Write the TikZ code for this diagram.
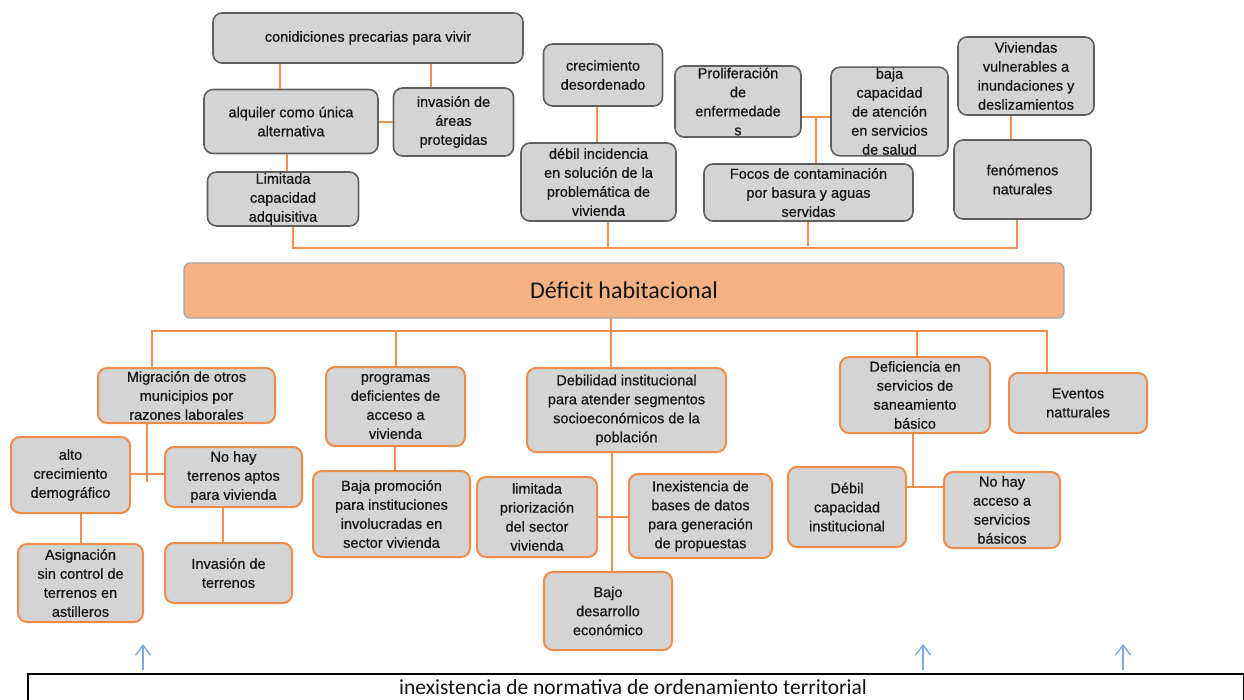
\documentclass[tikz,border=0pt]{standalone}
\usepackage{fontspec}
\setmainfont{Liberation Sans}
\newfontfamily\boxfont{Liberation Sans}[FakeBold=0.5]
\newfontfamily\carl{Carlito}
\usetikzlibrary{arrows.meta,calc}
\definecolor{boxgray}{RGB}{212,212,212}
\definecolor{edgegray}{RGB}{95,95,95}
\definecolor{lineor}{RGB}{241,142,82}
\definecolor{boxor}{RGB}{240,140,72}
\definecolor{defor}{RGB}{244,177,131}
\definecolor{defedge}{RGB}{165,165,165}
\definecolor{arrblue}{RGB}{125,170,222}
\definecolor{txt}{RGB}{20,20,20}
\begin{document}
\begin{tikzpicture}[x=1pt,y=-1pt,
 base/.style={rounded corners=9pt, fill=boxgray, align=center, inner sep=1pt, text=txt, font=\boxfont\fontsize{14.5}{19}\selectfont},
 tbox/.style={base, draw=edgegray, line width=1.6pt},
 obox/.style={base, draw=boxor, line width=2pt},
 ln/.style={draw=lineor, line width=1.6pt},
 sz/.style 2 args={minimum width=#1pt, minimum height=#2pt},
 arr/.style={draw=arrblue, line width=1.4pt, -{Straight Barb[length=10pt,width=15pt]}}]
\useasboundingbox (0,0) rectangle (1244,700);
\clip (0,0) rectangle (1244,700);
% top boxes
\node[tbox, sz={310}{50}] (cond) at (368,38) {conidiciones precarias para vivir};
\node[tbox, sz={174}{64}] (alq) at (291,121.5) {alquiler como única\\alternativa};
\node[tbox, sz={120}{68}] (inv) at (453.5,122) {invasión de\\áreas\\protegidas};
\node[tbox, sz={151}{54}] (lim) at (283,199) {Limitada\\capacidad\\adquisitiva};
\node[tbox, sz={119}{62}] (crec) at (603,75) {crecimiento\\desordenado};
\node[tbox, sz={155}{78}] (debil) at (598.5,182) {débil incidencia\\en solución de la\\problemática de\\vivienda};
\node[tbox, sz={126}{71}] (prolif) at (738,101.5) {Proliferación\\de\\enfermedade\\s};
\node[tbox, sz={117}{85}] (baja) at (889.5,111.5) {baja\\capacidad\\de atención\\en servicios\\de salud};
\node[tbox, sz={209}{57}] (focos) at (808.5,192.5) {Focos de contaminación\\por basura y aguas\\servidas};
\node[tbox, sz={136}{78}] (viv) at (1026,76) {Viviendas\\vulnerables a\\inundaciones y\\deslizamientos};
\node[tbox, sz={137}{79}] (fen) at (1022.5,179.5) {fenómenos\\naturales};
% central
\node[draw=defedge, fill=defor, rounded corners=6pt, line width=1.2pt, sz={880}{55}, font=\carl\fontsize{24}{28}\selectfont, text=txt] (def) at (624,290.5) {Déficit habitacional};
% lower boxes
\node[obox, sz={177}{55}] (mig) at (186.5,395.5) {Migración de otros\\municipios por\\razones laborales};
\node[obox, sz={139}{79}] (prog) at (395.5,406.5) {programas\\deficientes de\\acceso a\\vivienda};
\node[obox, sz={199}{84}] (debi) at (626.5,410) {Debilidad institucional\\para atender segmentos\\socioeconómicos de la\\población};
\node[obox, sz={150}{76}] (defic) at (915,395) {Deficiencia en\\servicios de\\saneamiento\\básico};
\node[obox, sz={138}{60}] (event) at (1078,403) {Eventos\\natturales};
\node[obox, sz={119}{76}] (alto) at (70.5,475) {alto\\crecimiento\\demográfico};
\node[obox, sz={137}{60}] (nohay) at (233.5,477) {No hay\\terrenos aptos\\para vivienda};
\node[obox, sz={125}{78}] (asig) at (80.5,583) {Asignación\\sin control de\\terrenos en\\astilleros};
\node[obox, sz={127}{60}] (invt) at (228.5,573) {Invasión de\\terrenos};
\node[obox, sz={157}{86}] (bajap) at (391.5,514) {Baja promoción\\para instituciones\\involucradas en\\sector vivienda};
\node[obox, sz={120}{80}] (limp) at (537,517) {limitada\\priorización\\del sector\\vivienda};
\node[obox, sz={143}{84}] (inex) at (700.5,516) {Inexistencia de\\bases de datos\\para generación\\de propuestas};
\node[obox, sz={128}{78}] (bajod) at (608,611) {Bajo\\desarrollo\\económico};
\node[obox, sz={118}{80}] (debcap) at (847,507) {Débil\\capacidad\\institucional};
\node[obox, sz={116}{76}] (noacc) at (1002,510) {No hay\\acceso a\\servicios\\básicos};
% bottom bar
\node[draw=black, fill=white, line width=1.5pt, minimum width=1216pt, minimum height=42pt, anchor=north west, inner sep=0pt] (norm) at (27,673) {};
\node[font=\carl\fontsize{21.5}{25}\selectfont, text=txt, inner sep=0pt] (normt) at (633,687.5) {inexistencia de normativa de ordenamiento territorial};
% top connectors
\draw[ln] (280,0 |- cond.south) -- (280,0 |- alq.north);
\draw[ln] (431,0 |- cond.south) -- (431,0 |- inv.north);
\draw[ln] (alq.east |- 0,122) -- (inv.west |- 0,122);
\draw[ln] (287,0 |- alq.south) -- (287,0 |- lim.north);
\coordinate (busl) at (293,248);
\coordinate (busr) at (1017,248);
\draw[ln] (busl |- lim.south) -- (busl) -- (busr) -- (busr |- fen.south);
\draw[ln] (608,0 |- debil.south) -- (608,248);
\draw[ln] (808,0 |- focos.south) -- (808,246);
\draw[ln] (597,0 |- crec.south) -- (597,0 |- debil.north);
\draw[ln] (prolif.east |- 0,117) -- (baja.west |- 0,117);
\draw[ln] (816,117) -- (816,0 |- focos.north);
\draw[ln] (1011,0 |- viv.south) -- (1011,0 |- fen.north);
% lower connectors
\coordinate (lbl) at (152,331);
\coordinate (lbr) at (1047,331);
\draw[ln] (611,0 |- def.south) -- (611,0 |- debi.north);
\draw[ln] (lbl |- mig.north) -- (lbl) -- (lbr) -- (lbr |- event.north);
\draw[ln] (396,331) -- (396,0 |- prog.north);
\draw[ln] (917,331) -- (917,0 |- defic.north);
\draw[ln] (147,0 |- mig.south) -- (147,482);
\draw[ln] (alto.east |- 0,474) -- (nohay.west |- 0,474);
\draw[ln] (81,0 |- alto.south) -- (81,0 |- asig.north);
\draw[ln] (223,0 |- nohay.south) -- (223,0 |- invt.north);
\draw[ln] (395,0 |- prog.south) -- (395,0 |- bajap.north);
\draw[ln] (612,0 |- debi.south) -- (612,0 |- bajod.north);
\draw[ln] (limp.east |- 0,517) -- (inex.west |- 0,517);
\draw[ln] (913,0 |- defic.south) -- (913,487);
\draw[ln] (debcap.east |- 0,487) -- (noacc.west |- 0,487);
% arrows
\coordinate (a1) at (143,644);
\coordinate (a2) at (923,644);
\coordinate (a3) at (1123,644);
\draw[arr] ($(a1 |- norm.north)+(0,-3)$) -- (a1);
\draw[arr] ($(a2 |- norm.north)+(0,-3)$) -- (a2);
\draw[arr] ($(a3 |- norm.north)+(0,-3)$) -- (a3);
\end{tikzpicture}
\end{document}
